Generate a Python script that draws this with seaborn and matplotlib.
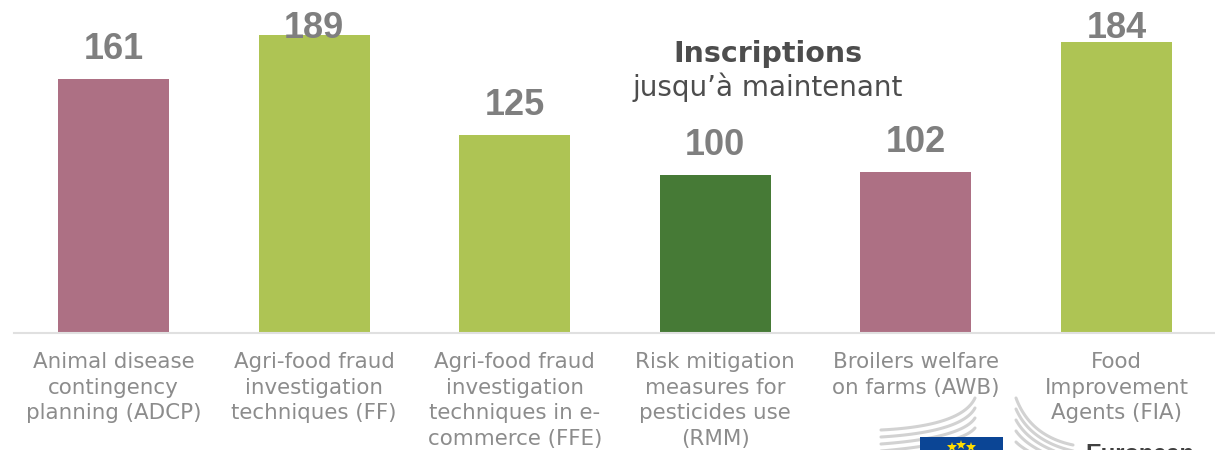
import matplotlib
matplotlib.use("Agg")
import matplotlib.pyplot as plt
import seaborn as sns
import pandas as pd
import numpy as np
from matplotlib.lines import Line2D
from matplotlib.patches import Rectangle

categories = ["Animal disease\ncontingency\nplanning (ADCP)",
              "Agri-food fraud\ninvestigation\ntechniques (FF)",
              "Agri-food fraud\ninvestigation\ntechniques in e-\ncommerce (FFE)",
              "Risk mitigation\nmeasures for\npesticides use\n(RMM)",
              "Broilers welfare\non farms (AWB)",
              "Food\nImprovement\nAgents (FIA)"]
values = [161, 189, 125, 100, 102, 184]
colors = ["#AD7084", "#AEC454", "#AEC454", "#467A36", "#AD7084", "#AEC454"]

W, H = 1215, 450
sns.set_theme(style="white")
plt.rcParams['font.family'] = ['DejaVu Sans']
fig = plt.figure(figsize=(W / 100, H / 100), dpi=100)
ax = fig.add_axes([14 / W, 1 - 332.5 / H, (W - 14) / W, 332.5 / H])
df = pd.DataFrame({"c": categories, "v": values})
sns.barplot(data=df, x="c", y="v", hue="c", palette=colors, legend=False, width=0.554,
            ax=ax, saturation=1, linewidth=0)
ax.set_xlim(-0.496, 5.491)
ax.set_ylim(0, 332.5 * 189 / 298)
ax.set_xlabel(""); ax.set_ylabel(""); ax.set_yticks([])
for s in ["top", "left", "right"]:
    ax.spines[s].set_visible(False)
ax.spines["bottom"].set_color("#E0E0E0")
ax.spines["bottom"].set_linewidth(1.5)
ax.set_xticks(range(6))
ax.set_xticklabels(categories, fontsize=15.4, color="#8C8C8C", linespacing=1.35)
ax.tick_params(axis="x", length=0, pad=14)

# value labels float above the bars, capped so the tallest stay inside the picture
gap = 20 * 189 / 298
cap = (332 - 38) * 189 / 298
for i, v in enumerate(values):
    ax.text(i, min(v + gap, cap), str(v), ha="center", va="baseline", fontsize=26,
            fontweight="bold", color="#7F7F7F", family="Liberation Sans", zorder=5)

fig.text(768 / W, 1 - 54 / H, "Inscriptions", ha="center", va="center", fontsize=20.5,
         fontweight="bold", color="#4D4D4D")
fig.text(768 / W, 1 - 87 / H, "jusqu’à maintenant", ha="center", va="center", fontsize=20,
         color="#4D4D4D")


# European Commission logo, cut off by the bottom edge
def swoosh(p0, p1, p2):
    t = np.linspace(0, 1, 40)[:, None]
    pts = (1 - t) ** 2 * np.array(p0) + 2 * t * (1 - t) * np.array(p1) + t ** 2 * np.array(p2)
    fig.add_artist(Line2D(pts[:, 0] / W, 1 - pts[:, 1] / H, transform=fig.transFigure,
                          color="#D2D2D2", lw=2.2))


for k in range(4):
    swoosh((881, 430 + 7 * k), (962, 426 + 6 * k), (975, 398 + 10 * k))
for k in range(5):
    swoosh((1016, 398 + 11 * k), (1030, 436 + 5 * k), (1073, 445 + 6 * k))
fig.add_artist(Rectangle((920 / W, 0), 83 / W, 13 / H, transform=fig.transFigure,
                         facecolor="#0B4595", edgecolor="none", zorder=3))
fig.add_artist(Line2D(np.array([952, 961, 971]) / W, 1 - np.array([447, 445, 447]) / H,
                      transform=fig.transFigure, linestyle="none", marker="*", markersize=7,
                      color="#FFDD00", markeredgewidth=0, zorder=4))
fig.text(1085 / W, 1 - 443 / H, "European", ha="left", va="top", fontsize=17,
         fontweight="bold", color="#404040", family="Liberation Sans")

fig.savefig("out.png", dpi=100)
